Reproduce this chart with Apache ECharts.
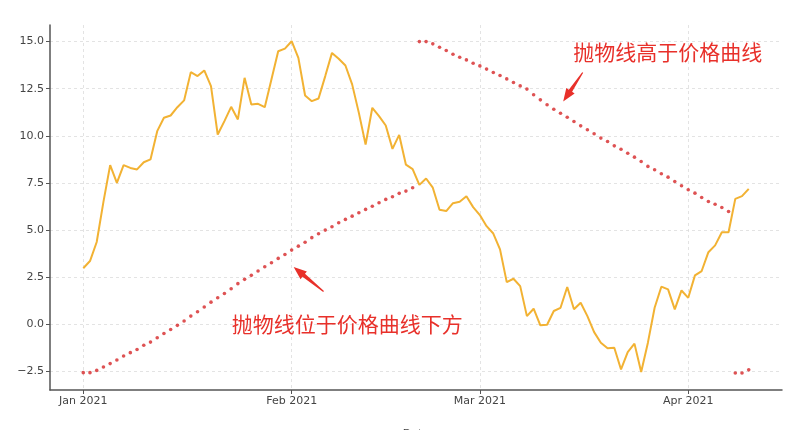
<!DOCTYPE html>
<html><head><meta charset="utf-8">
<script src="https://cdn.jsdelivr.net/npm/echarts@6/dist/echarts.min.js"></script>
<style>html,body{margin:0;padding:0;background:#fff}#c{width:796px;height:430px}</style>
</head><body><div id="c"></div>
<script>
// ---- data ----
const startDate = '2021-01-01';
const dayCount = 100;
const price = [
  2.98, 3.36, 4.37, 6.5, 8.45, 7.51, 8.45, 8.3, 8.22, 8.6,
  8.75, 10.25, 10.96, 11.08, 11.52, 11.88, 13.38, 13.17, 13.47, 12.64,
  10.07, 10.78, 11.54, 10.87, 13.08, 11.66, 11.7, 11.52, 13.0, 14.49,
  14.63, 15.02, 14.14, 12.14, 11.84, 11.98, 13.17, 14.4, 14.09, 13.73,
  12.73, 11.22, 9.54, 11.49, 11.05, 10.55, 9.31, 10.05, 8.47, 8.24,
  7.4, 7.74, 7.25, 6.08, 6.01, 6.43, 6.5, 6.8, 6.22, 5.8,
  5.21, 4.82, 3.98, 2.24, 2.42, 2.03, 0.44, 0.83, -0.05, -0.02,
  0.71, 0.88, 1.98, 0.8, 1.15, 0.44, -0.41, -0.97, -1.27, -1.24,
  -2.39, -1.47, -1.02, -2.53, -0.97, 0.88, 2.0, 1.86, 0.8, 1.8,
  1.41, 2.6, 2.83, 3.83, 4.19, 4.89, 4.89, 6.66, 6.8, 7.19
];
const sar = [
  -2.56, -2.56, -2.44, -2.26, -2.08, -1.89, -1.68, -1.5, -1.33, -1.11,
  -0.94, -0.71, -0.48, -0.27, -0.05, 0.18, 0.44, 0.67, 0.92, 1.18,
  1.41, 1.64, 1.89, 2.16, 2.39, 2.6, 2.83, 3.06, 3.27, 3.5,
  3.71, 3.94, 4.15, 4.36, 4.6, 4.81, 5.0, 5.18, 5.39, 5.57,
  5.74, 5.92, 6.1, 6.27, 6.45, 6.63, 6.77, 6.95, 7.07, 7.25,
  15.0, 15.0, 14.88, 14.7, 14.53, 14.33, 14.17, 14.03, 13.85, 13.71,
  13.54, 13.36, 13.2, 13.02, 12.83, 12.65, 12.48, 12.18, 11.91, 11.65,
  11.41, 11.2, 10.99, 10.76, 10.53, 10.32, 10.11, 9.88, 9.7, 9.47,
  9.29, 9.08, 8.87, 8.64, 8.38, 8.2, 7.99, 7.81, 7.58, 7.35,
  7.14, 6.96, 6.73, 6.52, 6.37, 6.2, 5.99, -2.58, -2.58, -2.41
];
const xTickDates = ['2021-01-01', '2021-02-01', '2021-03-01', '2021-04-01'];
const xTickLabels = ['Jan 2021', 'Feb 2021', 'Mar 2021', 'Apr 2021'];
const yTicks = [-2.5, 0, 2.5, 5, 7.5, 10, 12.5, 15];
// annotation anchors in data space: [days since start, value]
const annotations = [
  { text: '抛物线高于价格曲线', textAt: [72.9, 14.45], tail: [74.3, 13.36], head: [71.4, 11.82] },
  { text: '抛物线位于价格曲线下方', textAt: [22.1, 0.0], tail: [35.75, 1.74], head: [31.3, 3.04] }
];

// ---- build ----
const DAY = 86400000;
const t0 = Date.parse(startDate + 'T00:00:00Z');
// x axis in days since startDate
const days = Array.from({ length: dayCount }, (_, i) => i);
const xTicks = xTickDates.map(d => (Date.parse(d + 'T00:00:00Z') - t0) / DAY);

const chart = echarts.init(document.getElementById('c'));
const axisColor = '#555';
const gridLine = { show: true, lineStyle: { color: '#dcdcdc', type: [3, 3], width: 0.8 } };
chart.setOption({
  animation: false,
  backgroundColor: '#fff',
  grid: { left: 50, right: 14, top: 25, bottom: 40, containLabel: false, outerBoundsMode: 'none' },
  xAxis: {
    type: 'value',
    min: -4.95,
    max: 103.95,
    name: 'Date', nameLocation: 'middle', nameGap: 39,
    nameTextStyle: { fontFamily: 'DejaVu Sans', fontSize: 11, color: '#444' },
    axisLine: { onZero: false, lineStyle: { color: axisColor, width: 1.5 } },
    axisTick: { show: true, length: 4, lineStyle: { color: axisColor }, customValues: xTicks },
    axisLabel: {
      customValues: xTicks,
      fontFamily: 'DejaVu Sans', fontSize: 11, color: '#444', margin: 6,
      formatter: v => { const i = xTicks.findIndex(t => Math.abs(t - v) < 0.5); return i >= 0 ? xTickLabels[i] : ''; }
    },
    splitLine: gridLine
  },
  yAxis: {
    type: 'value',
    min: -3.48, max: 15.88,
    axisLine: { show: true, onZero: false, lineStyle: { color: axisColor, width: 1.5 } },
    axisTick: { show: true, length: 4, lineStyle: { color: axisColor }, customValues: yTicks },
    axisLabel: {
      customValues: yTicks,
      fontFamily: 'DejaVu Sans', fontSize: 11, color: '#444', margin: 6,
      formatter: v => v.toFixed(1).replace('-', '\u2212')
    },
    splitLine: gridLine
  },
  series: [
    {
      type: 'line', name: 'price',
      data: days.map(i => [i, price[i]]),
      showSymbol: false, smooth: false,
      lineStyle: { color: '#f2b233', width: 2 },
      z: 2
    },
    {
      type: 'scatter', name: 'sar',
      data: days.map(i => [i, sar[i]]),
      symbol: 'circle', symbolSize: 3.6,
      itemStyle: { color: '#d62728' },
      z: 3
    }
  ]
});

// ---- annotations ----
const graphics = [];
const red = '#e8302a';
annotations.forEach(a => {
  const tp = chart.convertToPixel({ gridIndex: 0 }, a.textAt);
  const T = chart.convertToPixel({ gridIndex: 0 }, a.tail);
  const H = chart.convertToPixel({ gridIndex: 0 }, a.head);
  graphics.push({
    type: 'text', z: 10,
    style: { text: a.text, x: tp[0], y: tp[1], fill: red, fontSize: 21,
      fontFamily: '"Noto Sans CJK SC"', align: 'left', verticalAlign: 'middle' }
  });
  const dx = H[0] - T[0], dy = H[1] - T[1];
  const len = Math.hypot(dx, dy);
  const ux = dx / len, uy = dy / len, nx = -uy, ny = ux;
  const L = 13, w = 5, s0 = 0.6, s1 = 2;
  const B = [H[0] - ux * L, H[1] - uy * L];
  const pts = [
    [T[0] + nx * s0, T[1] + ny * s0],
    [B[0] + nx * s1, B[1] + ny * s1],
    [B[0] + nx * w, B[1] + ny * w],
    [H[0], H[1]],
    [B[0] - nx * w, B[1] - ny * w],
    [B[0] - nx * s1, B[1] - ny * s1],
    [T[0] - nx * s0, T[1] - ny * s0]
  ];
  graphics.push({ type: 'polygon', z: 10, shape: { points: pts }, style: { fill: red } });
});
chart.setOption({ graphic: graphics });
</script>
</body></html>
